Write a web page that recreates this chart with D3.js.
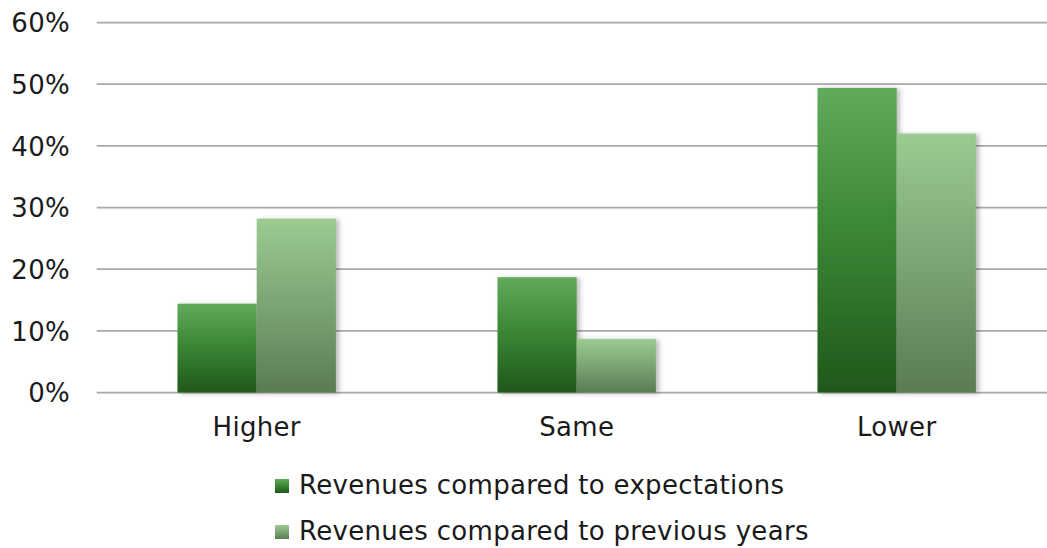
<!DOCTYPE html>
<html>
<head>
<meta charset="utf-8">
<script src="https://cdn.jsdelivr.net/npm/d3@7/dist/d3.min.js"></script>
<style>
  html, body { margin: 0; padding: 0; background: #fff; }
  svg { display: block; }
  text { font-family: Verdana, "DejaVu Sans", sans-serif; fill: #1a1a1a; letter-spacing: 0.3px; }
</style>
</head>
<body>
<svg id="chart" width="1047" height="548"></svg>
<script>
// Survey answers: how revenues turned out
const categories = ["Higher", "Same", "Lower"];
const seriesNames = ["Revenues compared to expectations", "Revenues compared to previous years"];
const vsExpectations = [0.144, 0.187, 0.494];
const vsPreviousYears = [0.282, 0.087, 0.420];
const yTicks = [0, 0.1, 0.2, 0.3, 0.4, 0.5, 0.6];

const seriesValues = [vsExpectations, vsPreviousYears];
const rows = categories.map((c, i) => ({
  category: c,
  values: seriesNames.map((s, k) => ({ key: s, k, value: seriesValues[k][i] }))
}));

const svg = d3.select("#chart");
const W = 1047, H = 548;
const plot = { left: 96.7, right: 1056.7, top: 22.5, bottom: 392.5 };

// gradients for the two series (top to bottom)
const defs = svg.append("defs");
const grads = [
  { id: "gExp", top: "#62aa5c", mid: "#3c8836", bottom: "#1f581a" },
  { id: "gPrev", top: "#9bcb91", mid: "#7fa877", bottom: "#5a7b55" }
];
grads.forEach(g => {
  const lg = defs.append("linearGradient").attr("id", g.id)
    .attr("x1", 0).attr("y1", 0).attr("x2", 0).attr("y2", 1);
  lg.append("stop").attr("offset", "0%").attr("stop-color", g.top);
  lg.append("stop").attr("offset", "45%").attr("stop-color", g.mid);
  lg.append("stop").attr("offset", "100%").attr("stop-color", g.bottom);
});
const shadow = defs.append("filter").attr("id", "barShadow")
  .attr("x", "-10%").attr("y", "-10%").attr("width", "130%").attr("height", "120%");
shadow.append("feDropShadow").attr("dx", 3).attr("dy", 1)
  .attr("stdDeviation", 2.5).attr("flood-color", "#000").attr("flood-opacity", 0.28);

const x0 = d3.scaleBand().domain(categories).range([plot.left, plot.right]).padding(0);
const x1 = d3.scaleBand().domain(seriesNames).range([0, x0.bandwidth()])
  .paddingInner(0).paddingOuter(1.02);
const y = d3.scaleLinear().domain([0, 0.6]).range([plot.bottom, plot.top]);

// horizontal gridlines
svg.append("g").selectAll("line").data(yTicks).join("line")
  .attr("x1", plot.left).attr("x2", W)
  .attr("y1", d => y(d)).attr("y2", d => y(d))
  .attr("stroke", "#a8a8a8").attr("stroke-width", 1.75);

// y axis labels
const yAxis = d3.axisLeft(y).tickValues(yTicks).tickFormat(d3.format(".0%")).tickSize(0).tickPadding(0);
svg.append("g").attr("transform", "translate(70,0)").call(yAxis)
  .call(g => g.select(".domain").remove())
  .call(g => g.selectAll("text")
    .style("font-family", "Verdana, 'DejaVu Sans', sans-serif")
    .style("font-size", "26px").attr("fill", "#1a1a1a").attr("dy", "0.36em"));

// bars
const groups = svg.append("g").selectAll("g").data(rows).join("g")
  .attr("transform", d => `translate(${x0(d.category)},0)`);
groups.selectAll("rect").data(d => d.values).join("rect")
  .attr("x", d => x1(d.key))
  .attr("width", x1.bandwidth())
  .attr("y", d => y(d.value))
  .attr("height", d => y(0) - y(d.value))
  .attr("fill", d => `url(#${grads[d.k].id})`)
  .attr("filter", "url(#barShadow)");

// category labels
const xAxis = d3.axisBottom(x0).tickSize(0).tickPadding(0);
svg.append("g").attr("transform", `translate(0,${plot.bottom})`).call(xAxis)
  .call(g => g.select(".domain").remove())
  .call(g => g.selectAll("text")
    .style("font-family", "Verdana, 'DejaVu Sans', sans-serif")
    .style("font-size", "26px").attr("fill", "#1a1a1a")
    .attr("dy", null).attr("y", 43));

// legend
const legend = svg.append("g").selectAll("g").data(seriesNames).join("g")
  .attr("transform", (d, i) => `translate(275,${494 + i * 46})`);
legend.append("rect").attr("x", 0).attr("y", -15).attr("width", 14).attr("height", 14)
  .attr("fill", (d, i) => `url(#${grads[i].id})`);
legend.append("text").attr("x", 24).attr("y", 0)
  .style("font-size", "26px").text(d => d);
</script>
</body>
</html>
